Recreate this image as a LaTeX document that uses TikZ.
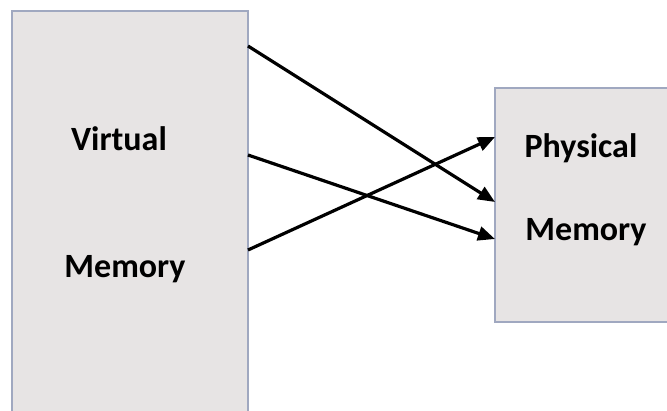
\documentclass[tikz,border=0pt]{standalone}
\usepackage{fontspec}
\setmainfont{Carlito}
\usetikzlibrary{arrows.meta}
\definecolor{boxfill}{RGB}{231,228,228}
\definecolor{boxline}{RGB}{160,168,192}
\begin{document}
\begin{tikzpicture}[x=1pt,y=-1pt,
  membox/.style={fill=boxfill,draw=boxline,line width=1.4pt},
  lbl/.style={font=\fontsize{34}{38}\selectfont\bfseries,anchor=base,inner sep=0pt},
  conn/.style={line width=3.2pt,-{Triangle[length=17pt,width=14pt]}}]
\useasboundingbox (0,0) rectangle (667,410);
\draw[membox] (12,11) rectangle (248,420);
\draw[membox] (495,88) rectangle (675,322);
\node[lbl] (v1) at (119,150) {Virtual};
\node[lbl] (v2) at (125,277) {Memory};
\node[lbl] (p1) at (581,157) {Physical};
\node[lbl] (p2) at (586,240) {Memory};
\coordinate (s1) at (248,46);
\coordinate (s2) at (248,155);
\coordinate (s3) at (248,250);
\coordinate (e1) at (495,202);
\coordinate (e2) at (495,239);
\coordinate (e3) at (495,137);
\draw[conn] (s1) -- (e1);
\draw[conn] (s2) -- (e2);
\draw[conn] (s3) -- (e3);
\end{tikzpicture}
\end{document}
